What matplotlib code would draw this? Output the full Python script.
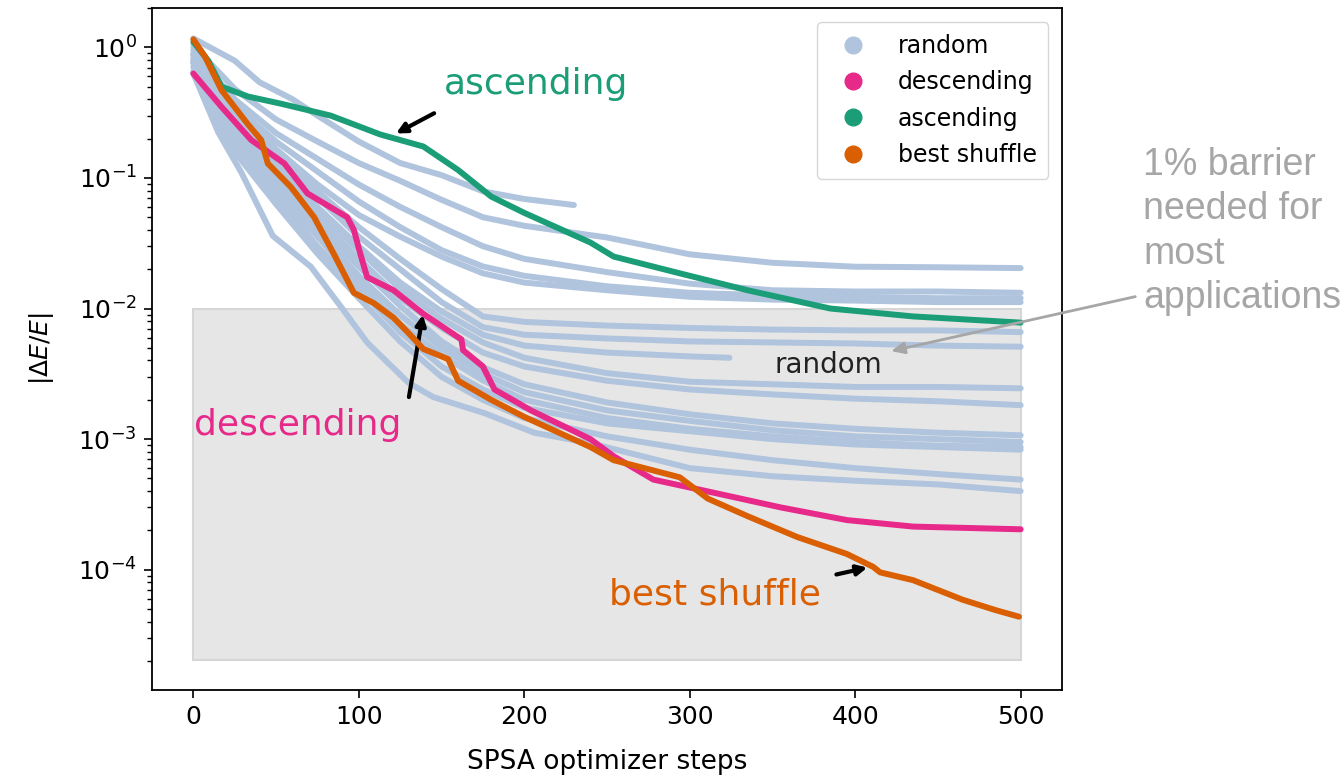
import matplotlib
matplotlib.use("Agg")
import matplotlib.pyplot as plt
from matplotlib.lines import Line2D
from matplotlib.patches import Rectangle

# ---------------- data ----------------
steps_grid = [0, 10, 25, 50, 75, 100, 125, 150, 175, 200, 250, 300, 350, 400, 450, 500]

random_runs = [
    ([0, 10, 25, 40, 60, 75, 100, 125, 150, 175, 200, 230],
     [1.17, 1.0, 0.79, 0.54, 0.40, 0.30, 0.19, 0.13, 0.105, 0.079, 0.069, 0.062]),
    (steps_grid, [1.05, 0.76, 0.48, 0.28, 0.19, 0.13, 0.095, 0.068, 0.050, 0.043, 0.035, 0.026, 0.0224, 0.0209, 0.0207, 0.0204]),
    (steps_grid, [1.0, 0.66, 0.40, 0.22, 0.14, 0.089, 0.060, 0.042, 0.030, 0.024, 0.019, 0.0155, 0.0138, 0.0135, 0.0135, 0.0132]),
    (steps_grid, [0.89, 0.60, 0.355, 0.19, 0.112, 0.066, 0.042, 0.028, 0.021, 0.0178, 0.0148, 0.0132, 0.0126, 0.0123, 0.0120, 0.0120]),
    (steps_grid, [0.95, 0.63, 0.38, 0.166, 0.089, 0.052, 0.0355, 0.025, 0.0186, 0.0158, 0.0138, 0.0123, 0.0117, 0.0115, 0.0112, 0.0112]),
    (steps_grid, [0.89, 0.56, 0.32, 0.158, 0.079, 0.042, 0.024, 0.0141, 0.0087, 0.0079, 0.0074, 0.0071, 0.0069, 0.0068, 0.0068, 0.0066]),
    (steps_grid, [0.83, 0.525, 0.30, 0.141, 0.071, 0.0355, 0.020, 0.0112, 0.0072, 0.0063, 0.0059, 0.0056, 0.0055, 0.0054, 0.0052, 0.0051]),
    ([0, 10, 25, 50, 75, 100, 125, 150, 175, 200, 250, 300, 324],
     [0.79, 0.50, 0.263, 0.120, 0.060, 0.030, 0.0158, 0.0095, 0.0063, 0.0052, 0.0046, 0.0043, 0.0042]),
    (steps_grid, [0.87, 0.56, 0.28, 0.126, 0.056, 0.028, 0.0141, 0.0083, 0.0055, 0.0042, 0.0032, 0.00275, 0.00263, 0.00251, 0.00251, 0.00245]),
    (steps_grid, [0.76, 0.48, 0.24, 0.105, 0.050, 0.024, 0.0120, 0.0071, 0.0046, 0.0036, 0.0028, 0.0024, 0.0022, 0.00204, 0.00195, 0.00182]),
    (steps_grid, [0.79, 0.447, 0.224, 0.095, 0.0447, 0.0209, 0.0105, 0.0056, 0.00355, 0.00263, 0.00191, 0.00155, 0.00132, 0.00120, 0.00112, 0.00107]),
    (steps_grid, [0.71, 0.417, 0.20, 0.089, 0.040, 0.0178, 0.0089, 0.0050, 0.00316, 0.00229, 0.00166, 0.00138, 0.00117, 0.00105, 0.00100, 0.00095]),
    (steps_grid, [0.76, 0.40, 0.19, 0.079, 0.0355, 0.0158, 0.0076, 0.0044, 0.00282, 0.0020, 0.00145, 0.00120, 0.00105, 0.00095, 0.00089, 0.00087]),
    (steps_grid, [0.66, 0.38, 0.178, 0.071, 0.030, 0.0141, 0.0066, 0.0036, 0.0024, 0.00174, 0.00132, 0.00115, 0.00100, 0.00091, 0.00087, 0.00083]),
    (steps_grid, [0.63, 0.355, 0.158, 0.063, 0.0263, 0.0120, 0.0056, 0.0030, 0.0020, 0.00145, 0.00105, 0.00083, 0.00069, 0.00060, 0.00054, 0.00049]),
    ([0, 15, 29, 48, 71, 90, 105, 130, 145, 176, 206, 240, 300, 350, 400, 450, 500],
     [0.63, 0.224, 0.110, 0.036, 0.0209, 0.0100, 0.0055, 0.0027, 0.0021, 0.00158, 0.00112, 0.00093, 0.00060, 0.00052, 0.00048, 0.00045, 0.00040]),
]

desc_steps = [0, 17, 35, 55, 69, 93, 97, 101, 105, 121, 139, 162, 163, 175, 182, 204, 240, 254, 278, 314, 355, 395, 435, 500]
desc_vals = [0.63, 0.35, 0.195, 0.129, 0.076, 0.050, 0.040, 0.026, 0.0174, 0.0138, 0.0091, 0.0058, 0.0048, 0.0036, 0.0024, 0.00166, 0.0010, 0.00074, 0.00049, 0.00039, 0.00030, 0.00024, 0.000214, 0.000204]

asc_steps = [0, 9, 17, 33, 53, 83, 113, 139, 160, 180, 200, 240, 254, 294, 335, 385, 435, 500]
asc_vals = [1.10, 0.79, 0.50, 0.42, 0.37, 0.30, 0.215, 0.174, 0.115, 0.072, 0.054, 0.032, 0.025, 0.0186, 0.0138, 0.0100, 0.0087, 0.0078]

best_steps = [0, 7, 17, 33, 41, 45, 59, 73, 85, 97, 109, 121, 130, 139, 154, 160, 180, 200, 240, 254, 294, 311, 335, 365, 395, 411, 415, 435, 465, 485, 499]
best_vals = [1.15, 0.85, 0.47, 0.257, 0.195, 0.129, 0.085, 0.050, 0.026, 0.0132, 0.011, 0.0085, 0.0065, 0.0049, 0.0041, 0.0028, 0.0020, 0.00148, 0.00087, 0.00069, 0.00051, 0.00035, 0.000257, 0.000178, 0.000132, 0.000105, 0.0000955, 0.0000832, 0.0000589, 0.000049, 0.0000437]

barrier_top = 1e-2
barrier_bottom = 2.05e-5
barrier_steps = (0, 500)

legend_labels = ["random", "descending", "ascending", "best shuffle"]
colors = {"random": "#b0c4de", "descending": "#e7298a",
          "ascending": "#1b9e77", "best shuffle": "#d95f02"}

# ---------------- figure ----------------
W, H, DPI = 1343, 781, 100
fig = plt.figure(figsize=(W / DPI, H / DPI), dpi=DPI)
ax = fig.add_axes([152 / W, 1 - 690 / H, (1062 - 152) / W, (690 - 8) / H])
ax.set_yscale("log")

ax.add_patch(Rectangle((barrier_steps[0], barrier_bottom),
                       barrier_steps[1] - barrier_steps[0], barrier_top - barrier_bottom,
                       facecolor="#e6e6e6", edgecolor="#d6d6d6", lw=1.5, zorder=1))

lw = 4.3
for xs, ys in random_runs:
    ax.plot(xs, ys, color=colors["random"], lw=lw, solid_capstyle="round",
            solid_joinstyle="round", zorder=2)
ax.plot(desc_steps, desc_vals, color=colors["descending"], lw=lw,
        solid_capstyle="round", solid_joinstyle="round", zorder=3)
ax.plot(asc_steps, asc_vals, color=colors["ascending"], lw=lw,
        solid_capstyle="round", solid_joinstyle="round", zorder=3)
ax.plot(best_steps, best_vals, color=colors["best shuffle"], lw=lw,
        solid_capstyle="round", solid_joinstyle="round", zorder=4)

ax.set_xlim(-25, 525)
ax.set_ylim(1.2e-5, 2.0)
ax.set_xticks([0, 100, 200, 300, 400, 500])
ax.tick_params(axis="both", which="major", labelsize=18, length=6, width=1.2, pad=5)
ax.tick_params(axis="both", which="minor", length=3.5, width=1.0)
for s in ax.spines.values():
    s.set_linewidth(1.3)

ax.set_xlabel("SPSA optimizer steps", fontsize=19, labelpad=14)
ax.set_ylabel(r"$|\Delta E/E|$", fontsize=18, labelpad=16)

handles = [Line2D([], [], ls="none", marker="o", markersize=12,
                  color=colors[k]) for k in legend_labels]
ax.legend(handles, legend_labels, loc="upper right", fontsize=17,
          handletextpad=0.9, borderpad=0.5, labelspacing=0.52,
          borderaxespad=0.0, bbox_to_anchor=(0.985, 0.979))

# annotations
arrow_kw = dict(arrowstyle="-|>,head_length=0.6,head_width=0.3", color="black", lw=3)
ax.text(207, 0.52, "ascending", color=colors["ascending"], fontsize=26,
        ha="center", va="center")
ax.annotate("", xy=(121, 0.214), xytext=(147, 0.32), arrowprops=arrow_kw)

ax.text(63, 1.29e-3, "descending", color=colors["descending"], fontsize=26,
        ha="center", va="center")
ax.annotate("", xy=(139, 9.4e-3), xytext=(130, 2.0e-3), arrowprops=arrow_kw)

ax.text(315, 6.5e-5, "best shuffle", color=colors["best shuffle"], fontsize=26,
        ha="center", va="center")
ax.annotate("", xy=(409, 1.05e-4), xytext=(387, 9.1e-5), arrowprops=arrow_kw)

ax.text(384, 3.7e-3, "random", color="#222222", fontsize=20, ha="center", va="center")

ax.annotate("", xy=(420, 4.67e-3), xycoords="data",
            xytext=(1138, H - 296), textcoords="figure pixels",
            arrowprops=dict(arrowstyle="-|>,head_length=0.8,head_width=0.35",
                            color="#a6a6a6", lw=2),
            annotation_clip=False)

fig.text(1143 / W, 1 - 147 / H, "1% barrier\nneeded for\nmost\napplications",
         color="#a6a6a6", fontsize=27, family="Liberation Sans",
         ha="left", va="top", linespacing=1.3)

fig.savefig("out.png", dpi=DPI)
